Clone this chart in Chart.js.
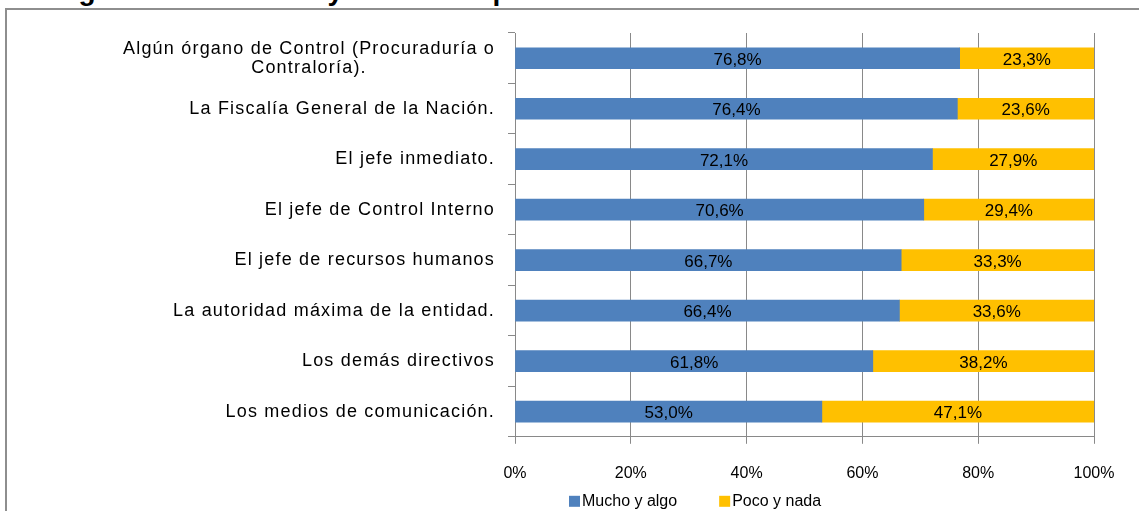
<!DOCTYPE html>
<html>
<head>
<meta charset="utf-8">
<script src="https://cdn.jsdelivr.net/npm/chart.js@4.4.0/dist/chart.umd.min.js"></script>
<style>
  html, body { margin: 0; padding: 0; background: #fff; overflow: hidden; width: 1139px; height: 511px; }
  #title { position: absolute; left: 6px; top: -23px; font: bold 28px "Liberation Sans", Arial, sans-serif; line-height: 28px; white-space: nowrap; color: #000; }
  #frame { position: absolute; left: 5px; top: 8px; width: 1500px; height: 600px; border-left: 2px solid #8e8e8e; border-top: 2px solid #8e8e8e; }
  #chart { position: absolute; left: 0; top: 0; }
</style>
</head>
<body>
<div id="title">Total gobierno nacional y Distrito Capital 2010</div>
<div id="frame"><canvas id="chart" width="1130" height="501"></canvas></div>
<script>
const categories = [
  ['Algún órgano de Control (Procuraduría o', 'Contraloría).'],
  'La Fiscalía General de la Nación.',
  'El jefe inmediato.',
  'El jefe de Control Interno',
  'El jefe de recursos humanos',
  'La autoridad máxima de la entidad.',
  'Los demás directivos',
  'Los medios de comunicación.'
];
const muchoValues = [76.8, 76.4, 72.1, 70.6, 66.7, 66.4, 61.8, 53.0];
const pocoValues = [23.3, 23.6, 27.9, 29.4, 33.3, 33.6, 38.2, 47.1];
const seriesNames = ['Mucho y algo', 'Poco y nada'];
const seriesColors = ['#4f81bd', '#ffc000'];

const FONT = '"Liberation Sans", Arial, sans-serif';
const GRID = '#898989';

// etiquetas de categoría (centradas por línea como en Excel)
const categoryLabels = {
  id: 'categoryLabels',
  afterDraw(chart) {
    const ctx = chart.ctx;
    const y = chart.scales.y;
    const right = chart.chartArea.left - 20;
    ctx.save();
    ctx.font = '18px ' + FONT;
    ctx.letterSpacing = '1.2px';
    ctx.fillStyle = '#000';
    ctx.textBaseline = 'middle';
    categories.forEach((lab, i) => {
      const lines = Array.isArray(lab) ? lab : [lab];
      const cy = y.getPixelForValue(i);
      const w0 = ctx.measureText(lines[0]).width;
      lines.forEach((ln, j) => {
        const yy = cy + (j - (lines.length - 1) / 2) * 19;
        if (j === 0) { ctx.textAlign = 'right'; ctx.fillText(ln, right, yy); }
        else { ctx.textAlign = 'center'; ctx.fillText(ln, right - w0 / 2, yy); }
      });
    });
    ctx.restore();
  }
};

const valueLabels = {
  id: 'valueLabels',
  afterDatasetsDraw(chart) {
    const ctx = chart.ctx;
    ctx.save();
    ctx.font = '17px ' + FONT;
    ctx.fillStyle = '#000';
    ctx.textAlign = 'center';
    ctx.textBaseline = 'middle';
    chart.data.datasets.forEach((ds, di) => {
      chart.getDatasetMeta(di).data.forEach((bar, i) => {
        const right = Math.min(bar.x, chart.chartArea.right);
        const cx = (right + bar.base) / 2;
        ctx.fillText(ds.data[i].toFixed(1).replace('.', ',') + '%', cx, bar.y + 2);
      });
    });
    ctx.restore();
  }
};

const legendBelow = {
  id: 'legendBelow',
  afterDraw(chart) {
    const ctx = chart.ctx;
    const cy = chart.chartArea.bottom + 64;
    let x = chart.chartArea.left + 54;
    ctx.save();
    ctx.font = '16px ' + FONT;
    ctx.textBaseline = 'middle';
    ctx.textAlign = 'left';
    chart.data.datasets.forEach(ds => {
      ctx.fillStyle = ds.backgroundColor;
      ctx.fillRect(x, cy - 5, 11, 11);
      ctx.fillStyle = '#000';
      ctx.fillText(ds.label, x + 13, cy + 1);
      x += 13 + ctx.measureText(ds.label).width + 42;
    });
    ctx.restore();
  }
};

new Chart(document.getElementById('chart'), {
  type: 'bar',
  data: {
    labels: categories,
    datasets: [
      { label: seriesNames[0], data: muchoValues, backgroundColor: seriesColors[0], barThickness: 21 },
      { label: seriesNames[1], data: pocoValues, backgroundColor: seriesColors[1], barThickness: 21 }
    ]
  },
  options: {
    indexAxis: 'y',
    responsive: false,
    animation: false,
    layout: { padding: { left: 501, right: 43, top: 23, bottom: 8 } },
    plugins: { legend: { display: false }, tooltip: { enabled: false } },
    scales: {
      x: {
        stacked: true, min: 0, max: 100,
        ticks: { stepSize: 20, callback: v => v + '%', color: '#000', font: { family: FONT, size: 16 }, padding: 20 },
        grid: { color: GRID, tickLength: 7 },
        border: { color: GRID }
      },
      y: {
        stacked: true,
        ticks: { display: false },
        grid: { drawOnChartArea: false, color: GRID, tickLength: 7 },
        border: { color: GRID }
      }
    }
  },
  plugins: [categoryLabels, valueLabels, legendBelow]
});
</script>
</body>
</html>
